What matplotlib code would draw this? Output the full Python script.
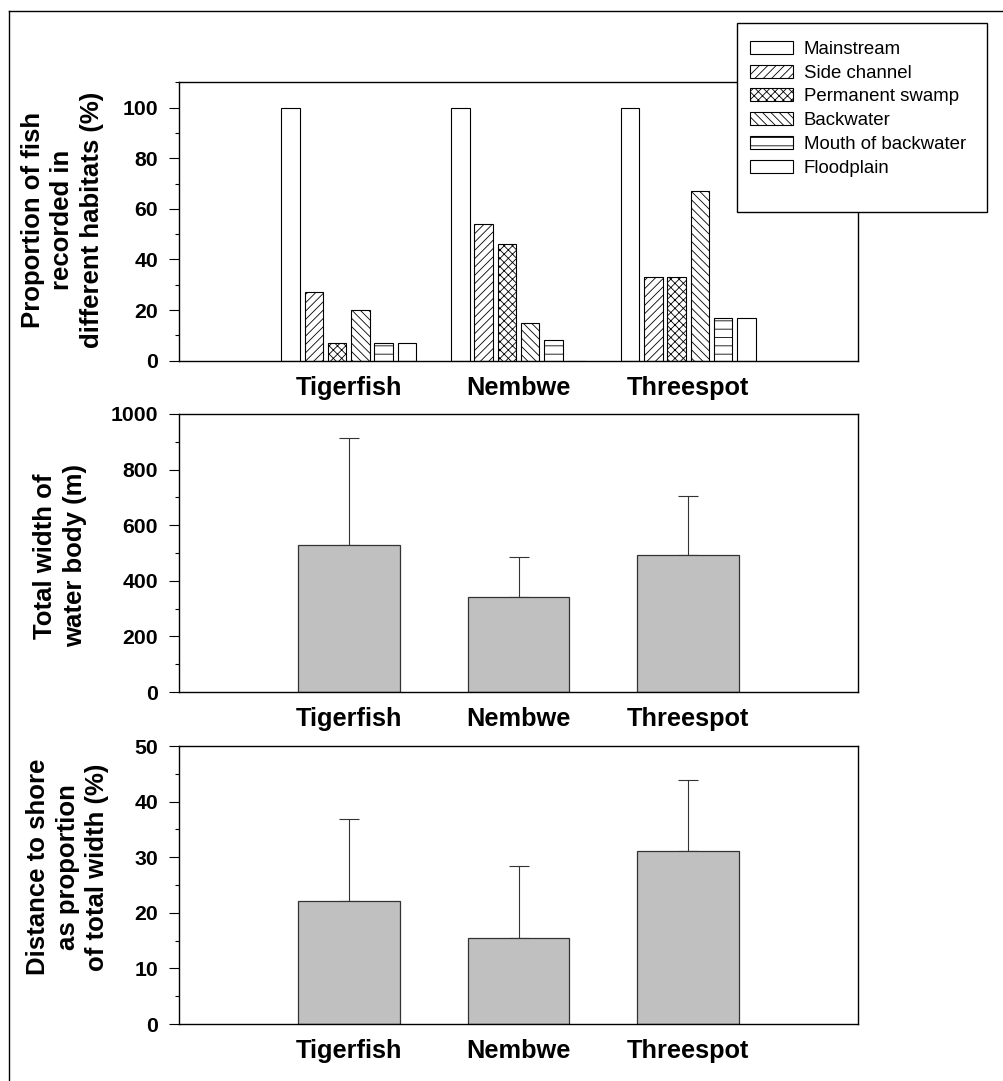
import matplotlib
matplotlib.use("Agg")
import matplotlib.pyplot as plt
from matplotlib.patches import Rectangle, Patch
from matplotlib.lines import Line2D
from matplotlib.ticker import MultipleLocator
import numpy as np

plt.rcParams['font.family'] = ['Liberation Sans', 'DejaVu Sans']
plt.rcParams['hatch.linewidth'] = 0.6

species = ["Tigerfish", "Nembwe", "Threespot"]
habitats = ["Mainstream", "Side channel", "Permanent swamp", "Backwater",
            "Mouth of backwater", "Floodplain"]
hatches = ["", "////", "xxxx", "\\\\\\\\", "--", ""]

mainstream = [100, 100, 100]
side_channel = [27, 54, 33]
permanent_swamp = [7, 46, 33]
backwater = [20, 15, 67]
mouth_of_backwater = [7, 8, 17]
floodplain = [7, 0, 17]
habitat_values = [mainstream, side_channel, permanent_swamp, backwater,
                  mouth_of_backwater, floodplain]

width_mean = [529, 342, 493]
width_err = [383, 145, 212]

shore_mean = [22.2, 15.4, 31.2]
shore_err = [14.7, 13.0, 12.6]

W, H = 1004, 1081
fig = plt.figure(figsize=(W / 100, H / 100), dpi=100)

def fx(px):
    return px / W

def fy(py):
    return 1 - py / H

left = fx(179)
awidth = fx(858) - fx(179)
ax1 = fig.add_axes([left, fy(360.7), awidth, (360.7 - 82.3) / H])
ax2 = fig.add_axes([left, fy(692), awidth, (692 - 414) / H])
ax3 = fig.add_axes([left, fy(1024), awidth, (1024 - 746) / H])

x = np.arange(1, len(species) + 1)

def style(ax, ymax, major, minor, ylabel, lx, ly):
    ax.set_xlim(0, 4)
    ax.set_ylim(0, ymax)
    ax.yaxis.set_major_locator(MultipleLocator(major))
    ax.yaxis.set_minor_locator(MultipleLocator(minor))
    ax.set_xticks(x)
    ax.set_xticklabels(species, fontsize=18.3, fontweight='bold')
    ax.tick_params(axis='x', length=0, pad=11)
    ax.tick_params(axis='y', which='major', direction='out', length=7, width=0.8,
                   labelsize=15.3, pad=8)
    for lbl in ax.get_yticklabels():
        lbl.set_fontweight('bold')
    ax.tick_params(axis='y', which='minor', direction='out', length=3, width=0.8)
    for s in ax.spines.values():
        s.set_linewidth(1.0)
    ax.set_ylabel(ylabel, fontsize=18.5, fontweight='bold', linespacing=1.3,
                  va='center', ha='center')
    ax.yaxis.set_label_coords(lx, ly)

# top panel
pitch = 0.137
bw = 0.11
offsets = (np.arange(len(habitats)) - (len(habitats) - 1) / 2) * pitch
for vals, off, h in zip(habitat_values, offsets, hatches):
    ax1.bar(x + off, vals, width=bw, facecolor='white', edgecolor='black',
            linewidth=0.8, hatch=h)
style(ax1, 110, 20, 10, "Proportion of fish\nrecorded in\ndifferent habitats (%)",
      -0.172, 0.505)

# middle panel
ax2.bar(x, width_mean, width=0.6, color='#c0c0c0', edgecolor='#333333', linewidth=0.9,
        zorder=2)
ax2.errorbar(x, width_mean, yerr=[np.zeros(3), width_err], fmt='none', ecolor='#333333',
             elinewidth=0.8, capsize=7, capthick=0.8, zorder=1)
style(ax2, 1000, 200, 100, "Total width of\nwater body (m)", -0.175, 0.49)

# bottom panel
ax3.bar(x, shore_mean, width=0.6, color='#c0c0c0', edgecolor='#333333', linewidth=0.9,
        zorder=2)
ax3.errorbar(x, shore_mean, yerr=[np.zeros(3), shore_err], fmt='none', ecolor='#333333',
             elinewidth=0.8, capsize=7, capthick=0.8, zorder=1)
style(ax3, 50, 10, 5, "Distance to shore\nas proportion\nof total width (%)",
      -0.164, 0.565)

# legend frame
frame = Rectangle((fx(737), fy(212)), fx(987) - fx(737), (212 - 23) / H,
                  transform=fig.transFigure, facecolor='white', edgecolor='black',
                  linewidth=1.0, zorder=4)
fig.patches.append(frame)

handles = [Patch(facecolor='white', edgecolor='black', linewidth=0.8, hatch=h)
           for h in hatches]
fig.legend(handles, habitats, loc='upper left',
           bbox_to_anchor=(fx(750), fy(41)), bbox_transform=fig.transFigure,
           frameon=False, fontsize=13.4, borderpad=0, borderaxespad=0,
           handlelength=2.3, handleheight=0.7, handletextpad=0.6,
           labelspacing=0.36)

# outer border (top and left)
fig.add_artist(Line2D([fx(9), 1.0], [fy(11), fy(11)], transform=fig.transFigure,
                      color='black', linewidth=1.0))
fig.add_artist(Line2D([fx(9), fx(9)], [fy(11), 0.0], transform=fig.transFigure,
                      color='black', linewidth=1.0))

fig.savefig("out.png", dpi=100)
